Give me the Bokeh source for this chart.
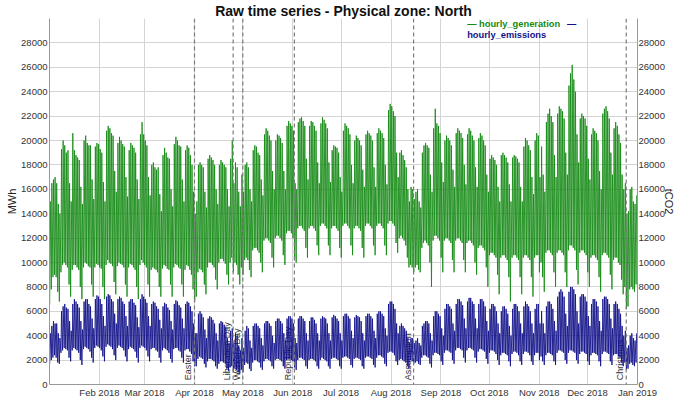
import math
import pandas as pd
from bokeh.plotting import figure
from bokeh.models import (Range1d, LinearAxis, FixedTicker, DatetimeTickFormatter,
                          Span, Label)
from bokeh.core.properties import value
from bokeh.embed import file_html
from bokeh.resources import INLINE

FONT = "Liberation Sans"

# Daily extremes, in hundreds (MWh for generation, tCO2 for emissions).
# One row per calendar week, Monday..Sunday, starting Mon 1 Jan 2018.
gen_peak_weeks = [
    [150, 165, 168, 170, 165, 148, 140],
    [193, 200, 196, 190, 192, 165, 150],
    [206, 192, 188, 186, 184, 162, 148],
    [200, 204, 198, 196, 196, 168, 152],
    [195, 198, 197, 193, 190, 166, 150],
    [208, 212, 210, 206, 204, 175, 158],
    [198, 203, 200, 197, 195, 170, 154],
    [192, 198, 196, 194, 190, 168, 152],
    [205, 215, 205, 200, 196, 170, 155],
    [180, 182, 178, 176, 178, 156, 142],
    [188, 194, 190, 186, 185, 160, 146],
    [197, 203, 200, 196, 195, 168, 150],
    [192, 196, 194, 188, 180, 158, 140],
    [150, 180, 182, 180, 178, 158, 145],
    [185, 188, 186, 184, 180, 160, 148],
    [180, 184, 182, 180, 178, 160, 146],
    [185, 200, 165, 182, 178, 158, 146],
    [172, 158, 180, 182, 178, 160, 150],
    [192, 196, 195, 190, 188, 168, 155],
    [205, 210, 208, 204, 200, 175, 160],
    [200, 205, 204, 202, 198, 175, 160],
    [212, 216, 214, 212, 208, 165, 160],
    [215, 218, 219, 216, 212, 185, 168],
    [212, 216, 215, 212, 208, 182, 165],
    [214, 219, 217, 214, 210, 182, 166],
    [192, 196, 195, 194, 190, 170, 158],
    [208, 214, 212, 210, 205, 180, 165],
    [200, 204, 202, 200, 196, 176, 162],
    [205, 208, 206, 204, 200, 178, 162],
    [206, 210, 208, 206, 202, 180, 164],
    [225, 230, 228, 224, 220, 190, 170],
    [190, 192, 188, 184, 178, 160, 150],
    [162, 160, 152, 158, 160, 150, 145],
    [190, 196, 198, 196, 194, 172, 158],
    [210, 226, 214, 212, 206, 182, 166],
    [200, 204, 202, 200, 196, 176, 162],
    [206, 210, 208, 206, 202, 180, 164],
    [205, 210, 208, 204, 200, 178, 162],
    [202, 206, 204, 200, 196, 172, 158],
    [185, 188, 186, 184, 180, 162, 150],
    [188, 190, 188, 186, 182, 164, 150],
    [186, 188, 187, 185, 182, 162, 150],
    [195, 202, 200, 196, 192, 170, 156],
    [200, 206, 204, 170, 195, 172, 158],
    [215, 222, 226, 220, 215, 188, 170],
    [222, 228, 226, 224, 218, 190, 172],
    [245, 255, 262, 250, 240, 205, 182],
    [218, 222, 220, 218, 212, 185, 168],
    [205, 210, 208, 206, 200, 175, 160],
    [222, 226, 228, 224, 218, 190, 172],
    [210, 215, 212, 205, 198, 172, 160],
    [165, 140, 142, 160, 162, 150, 148],
    [155],
]

gen_low_weeks = [
    [66, 78, 88, 90, 88, 76, 68],
    [92, 98, 100, 98, 96, 82, 72],
    [94, 98, 98, 96, 94, 80, 70],
    [96, 100, 99, 97, 96, 82, 72],
    [96, 99, 98, 96, 95, 80, 70],
    [98, 102, 100, 99, 97, 84, 74],
    [97, 100, 99, 98, 96, 82, 72],
    [96, 99, 98, 96, 94, 80, 70],
    [98, 102, 100, 98, 96, 82, 72],
    [94, 96, 95, 94, 92, 80, 72],
    [95, 98, 97, 95, 94, 82, 72],
    [96, 99, 98, 96, 95, 82, 72],
    [94, 98, 97, 94, 90, 78, 68],
    [72, 92, 95, 94, 92, 82, 74],
    [96, 100, 100, 98, 96, 86, 78],
    [100, 103, 103, 101, 99, 90, 82],
    [100, 104, 92, 100, 98, 90, 82],
    [96, 90, 102, 104, 102, 94, 88],
    [110, 112, 112, 110, 108, 100, 92],
    [118, 120, 120, 118, 116, 104, 96],
    [120, 122, 122, 120, 118, 106, 98],
    [124, 126, 126, 124, 120, 104, 100],
    [128, 130, 130, 128, 126, 112, 104],
    [128, 130, 130, 128, 126, 114, 106],
    [130, 132, 132, 130, 128, 114, 106],
    [128, 130, 130, 128, 126, 112, 104],
    [130, 132, 132, 130, 128, 114, 106],
    [128, 130, 130, 128, 126, 112, 104],
    [130, 132, 132, 130, 128, 114, 106],
    [130, 132, 132, 130, 128, 114, 106],
    [132, 134, 134, 132, 130, 116, 108],
    [120, 122, 120, 118, 114, 104, 96],
    [98, 96, 92, 96, 98, 94, 92],
    [112, 116, 118, 116, 114, 100, 80],
    [118, 122, 122, 120, 118, 104, 92],
    [118, 120, 120, 118, 116, 102, 92],
    [118, 120, 120, 118, 116, 102, 92],
    [116, 118, 118, 116, 114, 100, 90],
    [112, 114, 114, 112, 110, 96, 80],
    [106, 108, 108, 106, 104, 90, 74],
    [104, 106, 106, 104, 102, 88, 68],
    [104, 106, 106, 104, 102, 88, 74],
    [104, 106, 106, 104, 102, 88, 72],
    [104, 106, 106, 92, 100, 88, 76],
    [108, 110, 110, 108, 106, 92, 80],
    [108, 110, 110, 108, 106, 92, 80],
    [110, 114, 114, 112, 110, 94, 82],
    [108, 110, 110, 108, 106, 92, 80],
    [104, 106, 106, 104, 102, 88, 76],
    [106, 108, 108, 106, 104, 90, 78],
    [102, 104, 104, 100, 98, 86, 74],
    [80, 62, 64, 78, 80, 78, 76],
    [82],
]

em_peak_weeks = [
    [42, 48, 52, 50, 50, 42, 38],
    [60, 64, 66, 63, 62, 52, 44],
    [66, 70, 68, 66, 63, 52, 45],
    [68, 70, 70, 66, 64, 54, 46],
    [70, 73, 72, 70, 66, 56, 48],
    [72, 74, 73, 70, 68, 58, 50],
    [70, 72, 71, 68, 66, 56, 48],
    [68, 70, 70, 67, 65, 55, 47],
    [70, 74, 72, 70, 67, 56, 48],
    [66, 68, 67, 64, 62, 53, 46],
    [64, 67, 66, 63, 61, 52, 45],
    [66, 69, 68, 65, 63, 54, 46],
    [66, 68, 67, 64, 60, 50, 42],
    [42, 58, 60, 58, 55, 45, 38],
    [54, 56, 55, 53, 50, 42, 36],
    [50, 52, 51, 49, 47, 38, 34],
    [44, 46, 34, 42, 40, 32, 28],
    [38, 30, 44, 48, 46, 36, 30],
    [48, 50, 50, 48, 46, 38, 32],
    [50, 52, 52, 50, 48, 40, 34],
    [52, 54, 54, 52, 50, 42, 36],
    [54, 56, 56, 54, 50, 38, 34],
    [54, 56, 56, 54, 52, 42, 36],
    [52, 55, 55, 53, 50, 42, 36],
    [54, 56, 55, 54, 50, 42, 36],
    [55, 57, 56, 54, 52, 42, 36],
    [56, 58, 58, 56, 54, 44, 38],
    [55, 57, 56, 55, 52, 42, 36],
    [56, 58, 58, 56, 54, 44, 38],
    [58, 60, 60, 58, 56, 46, 40],
    [66, 68, 68, 66, 62, 50, 42],
    [48, 50, 48, 46, 44, 38, 34],
    [38, 38, 34, 36, 38, 34, 32],
    [48, 50, 52, 52, 50, 42, 36],
    [56, 60, 60, 58, 56, 46, 40],
    [62, 66, 66, 64, 62, 50, 44],
    [66, 70, 70, 68, 65, 54, 46],
    [68, 71, 71, 68, 66, 54, 46],
    [66, 70, 70, 68, 64, 52, 44],
    [62, 66, 66, 64, 60, 50, 42],
    [60, 64, 64, 62, 58, 48, 40],
    [62, 66, 66, 64, 60, 50, 42],
    [64, 68, 66, 64, 60, 50, 42],
    [62, 66, 66, 50, 60, 50, 42],
    [64, 68, 68, 66, 62, 52, 44],
    [72, 76, 78, 76, 72, 58, 48],
    [76, 80, 80, 78, 74, 60, 50],
    [72, 74, 74, 72, 68, 56, 48],
    [66, 70, 70, 68, 64, 52, 44],
    [70, 72, 72, 70, 66, 54, 46],
    [66, 68, 66, 62, 58, 48, 40],
    [44, 30, 32, 40, 42, 38, 36],
    [42],
]

em_low_weeks = [
    [17, 20, 22, 24, 22, 18, 17],
    [26, 28, 30, 29, 28, 22, 19],
    [28, 30, 29, 28, 26, 20, 16],
    [29, 31, 30, 29, 27, 22, 18],
    [30, 32, 31, 30, 28, 23, 19],
    [31, 33, 32, 31, 29, 24, 20],
    [30, 32, 31, 30, 28, 23, 19],
    [29, 31, 30, 29, 27, 22, 18],
    [30, 32, 31, 30, 28, 23, 19],
    [29, 30, 30, 28, 27, 22, 18],
    [28, 30, 29, 28, 26, 21, 18],
    [29, 30, 30, 28, 27, 22, 18],
    [28, 29, 29, 27, 25, 19, 15],
    [15, 21, 23, 22, 21, 17, 14],
    [19, 21, 21, 20, 19, 15, 13],
    [17, 19, 19, 18, 17, 13, 11],
    [14, 15, 10, 13, 12, 10, 9],
    [12, 10, 16, 18, 17, 13, 11],
    [18, 20, 20, 19, 18, 14, 12],
    [19, 21, 21, 20, 19, 15, 13],
    [20, 21, 21, 20, 19, 15, 13],
    [20, 21, 21, 20, 19, 14, 12],
    [20, 22, 22, 21, 20, 15, 13],
    [20, 21, 21, 20, 19, 15, 13],
    [20, 22, 21, 20, 19, 15, 13],
    [21, 22, 22, 21, 20, 15, 13],
    [22, 23, 23, 22, 21, 16, 14],
    [21, 22, 22, 21, 20, 15, 13],
    [22, 23, 23, 22, 21, 16, 14],
    [22, 24, 24, 23, 22, 17, 15],
    [26, 27, 27, 26, 24, 19, 16],
    [20, 21, 20, 19, 18, 15, 13],
    [20, 19, 17, 18, 19, 17, 16],
    [22, 24, 24, 23, 22, 17, 14],
    [24, 26, 26, 25, 24, 19, 16],
    [26, 28, 28, 27, 26, 20, 17],
    [28, 30, 30, 29, 28, 22, 18],
    [28, 30, 30, 29, 28, 22, 18],
    [27, 29, 29, 28, 27, 21, 17],
    [26, 28, 28, 27, 25, 20, 16],
    [24, 26, 26, 25, 24, 19, 15],
    [25, 27, 27, 26, 24, 19, 16],
    [25, 27, 27, 26, 24, 19, 16],
    [24, 26, 26, 20, 23, 19, 16],
    [24, 26, 26, 25, 24, 19, 16],
    [26, 28, 28, 27, 26, 20, 17],
    [26, 28, 28, 27, 26, 20, 17],
    [25, 27, 27, 26, 25, 19, 16],
    [24, 26, 26, 25, 24, 19, 15],
    [25, 27, 27, 26, 25, 19, 16],
    [24, 25, 25, 23, 22, 18, 15],
    [18, 12, 13, 17, 18, 16, 15],
    [18],
]

holiday_dates = ["2018-04-01", "2018-04-25", "2018-05-01",
                 "2018-06-02", "2018-08-15", "2018-12-25"]
holiday_names = ["Easter", "Liberation Day", "Workers Day",
                 "Republic Day", "Assumption", "Christmas"]

month_ticks = ["2018-02-01", "2018-03-01", "2018-04-01", "2018-05-01",
               "2018-06-01", "2018-07-01", "2018-08-01", "2018-09-01",
               "2018-10-01", "2018-11-01", "2018-12-01", "2019-01-01"]
y_ticks = [0, 2000, 4000, 6000, 8000, 10000, 12000, 14000,
           16000, 18000, 20000, 22000, 24000, 26000, 28000]


def flat(weeks):
    return [v * 100 for wk in weeks for v in wk]


def day_profile(peaks, lows):
    """Night minimum at 03:00 and daytime maximum at 11:00 for each day."""
    start = pd.Timestamp("2018-01-01")
    t, v = [], []
    for d, (hi, lo) in enumerate(zip(peaks, lows)):
        day = start + pd.Timedelta(days=d)
        t.append(day + pd.Timedelta(hours=3))
        v.append(lo)
        t.append(day + pd.Timedelta(hours=11))
        v.append(hi)
    return pd.to_datetime(t), v


gt, gv = day_profile(flat(gen_peak_weeks), flat(gen_low_weeks))
et, ev = day_profile(flat(em_peak_weeks), flat(em_low_weeks))


def ms(s):
    return pd.Timestamp(s).value / 1e6


x0 = ms("2018-01-01")
x1 = ms("2019-01-01")

p = figure(width=677, height=402, x_axis_type="datetime",
           x_range=Range1d(x0, x1), y_range=Range1d(0, 30000),
           output_backend="svg", toolbar_location=None,
           min_border_left=49, min_border_right=35,
           min_border_top=0, min_border_bottom=18,
           title="Raw time series - Physical zone: North",
           y_axis_label="MWh")
p.extra_y_ranges = {"em": Range1d(0, 30000)}
p.outline_line_color = None
p.background_fill_color = "white"
p.border_fill_color = "white"

p.title.align = "center"
p.title.text_font = FONT
p.title.text_font_size = "14px"
p.title.text_font_style = "bold"
p.title.text_color = "#111111"
p.title.standoff = 0
p.title.offset = 0

right = LinearAxis(y_range_name="em", axis_label="tCO2")
p.add_layout(right, "right")

for ax in [p.yaxis[0], right]:
    ax.ticker = FixedTicker(ticks=y_ticks)

p.xaxis.ticker = FixedTicker(ticks=[ms(s) for s in month_ticks])
p.xaxis.formatter = DatetimeTickFormatter(
    years="%b %Y", months="%b %Y", days="%b %Y", hours="%b %Y")

for ax in p.xaxis + p.yaxis:
    ax.axis_line_color = "#999999"
    ax.major_tick_line_color = None
    ax.minor_tick_line_color = None
    ax.major_tick_out = 0
    ax.major_tick_in = 0
    ax.minor_tick_out = 0
    ax.minor_tick_in = 0
    ax.major_label_text_font = FONT
    ax.major_label_text_font_size = "9.5px"
    ax.major_label_text_color = "#333333"
    ax.major_label_standoff = 2
    ax.axis_label_text_font = FONT
    ax.axis_label_text_font_size = "11px"
    ax.axis_label_text_font_style = "normal"
    ax.axis_label_text_color = "#222222"
    ax.axis_label_standoff = 0

# the right-hand unit title tucks in close to its tick labels
right.major_label_standoff = 1
right.axis_label_standoff = -5

p.xgrid.ticker = FixedTicker(ticks=[ms(s) for s in month_ticks])
p.ygrid.ticker = FixedTicker(ticks=y_ticks)
p.grid.grid_line_color = "#d4d4d4"
p.grid.grid_line_width = 1

# holiday names sit underneath the series
hol_ms = [ms(s) for s in holiday_dates]
p.text(x=hol_ms, y=[350] * len(hol_ms), text=holiday_names, angle=math.pi / 2,
       x_offset=-1, text_align="left", text_baseline="bottom",
       text_font=value(FONT), text_font_size=value("9px"), text_color="#333333")

p.line(gt, gv, line_color="#138a13", line_alpha=0.85, line_width=1)
p.line(et, ev, line_color="#12128a", line_alpha=0.88, line_width=1,
       y_range_name="em")

for loc in hol_ms:
    p.add_layout(Span(location=loc, dimension="height", line_color="#7a7a7a",
                      line_dash="4 3", line_width=1.2))

# two-row legend above the data
leg_x = ms("2018-09-17 06:00")
p.add_layout(Label(x=leg_x, y=29550, text="\u2014 hourly_generation",
                   text_color="#138a13", text_font=FONT, text_font_size="9.3px",
                   text_font_style="bold", text_baseline="middle"))
p.add_layout(Label(x=ms("2018-11-18 06:00"), y=29550, text="\u2014",
                   text_color="#12128a", text_font=FONT, text_font_size="9.3px",
                   text_font_style="bold", text_baseline="middle"))
p.add_layout(Label(x=leg_x, y=28650, text="hourly_emissions",
                   text_color="#12128a", text_font=FONT, text_font_size="9.3px",
                   text_font_style="bold", text_baseline="middle"))

open("out.html", "w").write(file_html(p, INLINE))
